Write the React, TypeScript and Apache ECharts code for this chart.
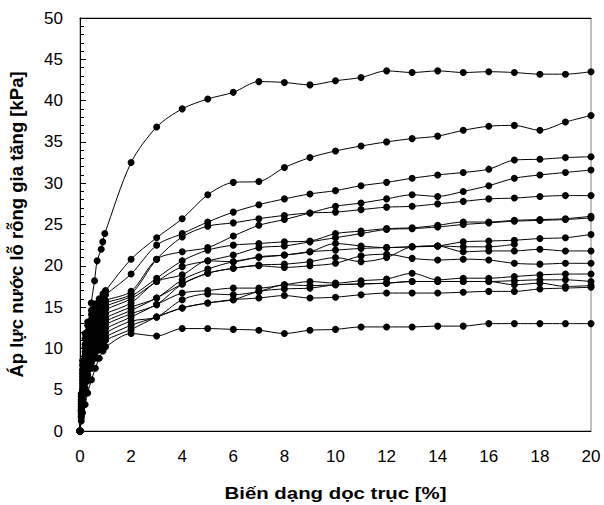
import React, { useEffect, useRef } from "react";
import * as echarts from "echarts";

// Axial strain [%] at which readings were taken
const strainEarly = [0, 0.05, 0.1, 0.2, 0.3, 0.45, 0.6, 0.75, 0.9, 1.0];
const strainMain = [2, 3, 4, 5, 6, 7, 8, 9, 10, 11, 12, 13, 14, 15, 16, 17, 18, 19, 20];
const strainTopEarly = [0, 0.05, 0.1, 0.2, 0.3, 0.44, 0.57, 0.67, 0.83, 0.89, 0.97];

const xTicks = [0, 2, 4, 6, 8, 10, 12, 14, 16, 18, 20];
const yTicks = [0, 5, 10, 15, 20, 25, 30, 35, 40, 45, 50];

const xTitle = "Biến dạng dọc trục [%]";
const yTitle = "Áp lực nước lỗ rỗng gia tăng [kPa]";

// Excess pore water pressure [kPa], one pair of arrays per test
const p01Early = [0, 2.5, 5.0, 8.5, 11.5, 15.5, 18.2, 20.6, 22.0, 22.9, 23.9];
const p01Main = [32.5, 36.8, 39.0, 40.2, 41.0, 42.3, 42.2, 41.9, 42.4, 42.8, 43.6, 43.4, 43.6, 43.4, 43.5, 43.4, 43.2, 43.2, 43.5];

const p02Early = [0, 4.5, 8.5, 11.8, 13.2, 14.6, 15.4, 16.0, 16.6, 17.0];
const p02Main = [20.8, 23.4, 25.7, 28.6, 30.1, 30.2, 31.9, 33.1, 33.9, 34.5, 35.0, 35.4, 35.7, 36.4, 36.9, 37.0, 36.4, 37.4, 38.2];

const p03Early = [0, 4.2, 8.0, 11.2, 12.8, 14.1, 15.0, 15.6, 16.2, 16.5];
const p03Main = [19.0, 22.5, 23.9, 25.3, 26.5, 27.4, 28.1, 28.7, 29.1, 29.7, 30.1, 30.6, 31.0, 31.3, 31.7, 32.8, 32.9, 33.1, 33.2];

const p04Early = [0, 3.8, 7.4, 10.5, 12.0, 13.4, 14.3, 14.9, 15.4, 15.8];
const p04Main = [16.9, 20.8, 21.7, 22.2, 23.6, 24.9, 25.6, 26.4, 27.2, 27.6, 28.1, 28.6, 28.4, 29.0, 29.7, 30.6, 31.0, 31.3, 31.6];

const p05Early = [0, 3.6, 7.0, 10.1, 11.6, 13.0, 13.9, 14.6, 15.1, 15.5];
const p05Main = [16.6, 20.8, 23.5, 24.8, 25.2, 25.7, 26.1, 26.4, 26.5, 26.8, 27.1, 27.2, 27.5, 27.8, 28.1, 28.2, 28.4, 28.5, 28.5];

const p06Early = [0, 3.4, 6.6, 9.6, 11.1, 12.5, 13.5, 14.2, 14.7, 15.1];
const p06Main = [16.3, 18.5, 20.6, 21.9, 22.5, 22.7, 22.9, 23.0, 23.9, 24.2, 24.5, 24.6, 24.9, 25.3, 25.3, 25.5, 25.6, 25.7, 26.0];

const p07Early = [0, 3.2, 6.2, 9.1, 10.6, 12.0, 13.0, 13.7, 14.3, 14.7];
const p07Main = [16.0, 18.1, 19.9, 20.6, 21.3, 22.2, 22.4, 22.9, 23.4, 23.9, 24.4, 24.5, 24.7, 25.0, 25.2, 25.4, 25.5, 25.6, 25.8];

const p08Early = [0, 3.0, 5.8, 8.6, 10.1, 11.5, 12.5, 13.2, 13.8, 14.2];
const p08Main = [15.5, 18.1, 18.9, 20.6, 20.5, 21.1, 21.3, 21.7, 22.7, 22.4, 22.2, 22.3, 22.4, 22.9, 23.0, 23.1, 23.3, 23.4, 23.8];

const p09Early = [0, 2.8, 5.4, 8.0, 9.6, 11.0, 12.0, 12.8, 13.3, 13.7];
const p09Main = [15.0, 16.1, 18.3, 19.6, 20.5, 21.0, 21.3, 21.7, 21.9, 22.1, 22.2, 22.3, 22.4, 22.3, 22.3, 22.6];

const p10Early = [0, 2.6, 5.0, 7.5, 9.1, 10.5, 11.5, 12.3, 12.9, 13.3];
const p10Main = [14.6, 16.1, 17.8, 19.1, 19.7, 20.1, 20.2, 20.5, 21.0, 20.5, 21.0, 22.3, 22.4, 21.7, 21.8, 21.8, 22.0, 21.8, 21.8];

const p11Early = [0, 2.4, 4.6, 7.0, 8.6, 10.0, 11.1, 11.9, 12.5, 12.9];
const p11Main = [14.2, 15.3, 17.8, 19.1, 19.7, 20.0, 19.8, 20.0, 20.3, 21.2, 21.4, 20.9, 20.7, 20.8, 20.7, 20.3, 20.2, 20.3, 20.3];

const p12Early = [0, 2.2, 4.2, 6.4, 8.0, 9.5, 10.6, 11.4, 12.0, 12.4];
const p12Main = [13.8, 15.3, 16.7, 17.0, 17.3, 17.3, 17.7, 18.1, 17.9, 18.2, 18.4, 19.1, 18.3, 18.5, 18.5, 18.7, 18.9, 19.0, 19.0];

const p13Early = [0, 2.0, 3.8, 5.8, 7.4, 8.9, 10.0, 10.9, 11.5, 11.9];
const p13Main = [13.3, 13.8, 15.9, 16.6, 16.5, 16.9, 17.7, 17.6, 17.7, 17.8, 17.9, 18.1, 18.1, 18.1, 18.1, 18.2, 18.3, 18.3, 18.1];

const p14Early = [0, 1.8, 3.4, 5.2, 6.8, 8.3, 9.5, 10.4, 11.0, 11.4];
const p14Main = [12.8, 13.8, 14.9, 15.5, 15.9, 16.9, 17.2, 17.3, 17.7, 17.8, 17.9, 18.1, 18.1, 18.1, 18.1, 17.7, 17.9, 17.5, 17.6];

const p15Early = [0, 1.6, 3.0, 4.6, 6.1, 7.6, 8.8, 9.8, 10.5, 11.0];
const p15Main = [12.3, 13.8, 14.9, 15.5, 15.9, 16.1, 16.4, 16.1, 16.2, 16.5, 16.7, 16.7, 16.7, 16.8, 16.9, 16.9, 17.2, 17.3, 17.4];

const p16Early = [0, 1.2, 2.2, 3.2, 4.6, 6.2, 7.6, 8.8, 9.7, 10.2];
const p16Main = [11.8, 11.5, 12.4, 12.4, 12.3, 12.2, 11.8, 12.2, 12.3, 12.6, 12.6, 12.6, 12.7, 12.7, 13.0, 13.0, 13.0, 13.0, 13.0];

const tests: [number[], number[], number[]][] = [
  [strainTopEarly, p01Early, p01Main],
  [strainEarly, p02Early, p02Main],
  [strainEarly, p03Early, p03Main],
  [strainEarly, p04Early, p04Main],
  [strainEarly, p05Early, p05Main],
  [strainEarly, p06Early, p06Main],
  [strainEarly, p07Early, p07Main],
  [strainEarly, p08Early, p08Main],
  [strainEarly, p09Early, p09Main],
  [strainEarly, p10Early, p10Main],
  [strainEarly, p11Early, p11Main],
  [strainEarly, p12Early, p12Main],
  [strainEarly, p13Early, p13Main],
  [strainEarly, p14Early, p14Main],
  [strainEarly, p15Early, p15Main],
  [strainEarly, p16Early, p16Main],
];

const FONT = "'Liberation Sans', Arial, sans-serif";

function toPoints(xEarly: number[], yEarly: number[], yMain: number[]) {
  const pts: number[][] = yEarly.map((y, i) => [xEarly[i], y]);
  yMain.forEach((y, i) => pts.push([strainMain[i], y]));
  return pts;
}

export default function App() {
  const ref = useRef<HTMLDivElement>(null);

  useEffect(() => {
    if (!ref.current) return;
    const chart = echarts.init(ref.current, null, { renderer: "svg" });

    const series = tests.map(([xe, ye, ym], i) => ({
      name: "Test " + (i + 1),
      type: "line",
      data: toPoints(xe, ye, ym),
      smooth: 0.3,
      symbol: "circle",
      symbolSize: 7,
      itemStyle: { color: "#000" },
      lineStyle: { color: "#000", width: 1 },
      z: 3,
    }));

    chart.setOption({
      animation: false,
      backgroundColor: "#fff",
      grid: {
        left: 80,
        right: 13,
        top: 18,
        bottom: 74,
        show: true,
        borderColor: "#808080",
        borderWidth: 1,
      },
      // Axis titles, centred on the plot area
      graphic: [
        {
          type: "text",
          x: 335.5,
          y: 493,
          scaleX: 1.2,
          style: {
            text: xTitle,
            font: `bold 17px ${FONT}`,
            fill: "#000",
            align: "center",
            verticalAlign: "middle",
          },
        },
        {
          type: "text",
          x: 16,
          y: 224.5,
          rotation: Math.PI / 2,
          style: {
            text: yTitle,
            font: `bold 18.5px ${FONT}`,
            fill: "#000",
            align: "center",
            verticalAlign: "middle",
          },
        },
      ],
      xAxis: [
        {
          type: "value",
          min: xTicks[0],
          max: xTicks[xTicks.length - 1],
          interval: 2,
          axisLine: { show: true, lineStyle: { color: "#000", width: 1 } },
          axisTick: { show: false },
          splitLine: { show: false },
          axisLabel: { fontFamily: FONT, fontSize: 17, color: "#000", margin: 17 },
        },
        {
          type: "value",
          position: "top",
          min: 0,
          max: 20,
          interval: 2,
          axisLine: { show: true, onZero: false, lineStyle: { color: "#000", width: 1 } },
          axisTick: { show: false },
          axisLabel: { show: false },
          splitLine: { show: false },
        },
      ],
      yAxis: {
        type: "value",
        min: yTicks[0],
        max: yTicks[yTicks.length - 1],
        interval: 5,
        axisLine: { show: true, lineStyle: { color: "#000", width: 1 } },
        axisTick: { show: true, inside: true, length: 6, lineStyle: { color: "#000" } },
        minorTick: { show: true, splitNumber: 5, length: 4, lineStyle: { color: "#000" } },
        splitLine: { show: false },
        axisLabel: { fontFamily: FONT, fontSize: 17, color: "#000", margin: 17 },
      },
      series,
    });

    return () => chart.dispose();
  }, []);

  return (
    <div
      ref={ref}
      style={{ position: "fixed", left: 0, top: 0, width: 604, height: 505, background: "#fff" }}
    />
  );
}
